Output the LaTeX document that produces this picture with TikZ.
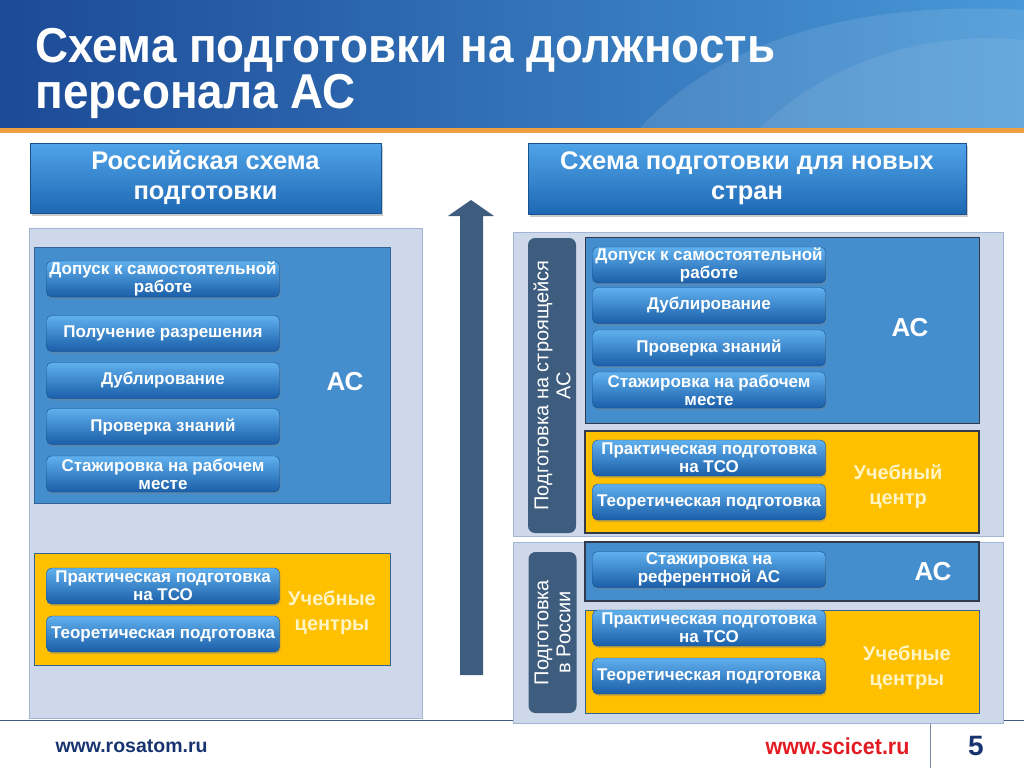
\documentclass[tikz,border=0pt]{standalone}
\usepackage{fontspec}
\setmainfont{Liberation Sans}
\newfontfamily\narrowfont[FakeStretch=0.935]{Liberation Sans}
\usetikzlibrary{shadows}

\definecolor{headdark}{RGB}{28,74,150}
\definecolor{headlight}{RGB}{72,152,215}
\definecolor{rosorange}{RGB}{238,158,62}
\definecolor{panelfill}{RGB}{205,217,234}
\definecolor{paneldraw}{RGB}{160,182,212}
\definecolor{asblue}{RGB}{68,142,206}
\definecolor{asedge}{RGB}{52,98,150}
\definecolor{darkedge}{RGB}{48,58,74}
\definecolor{tcyellow}{RGB}{255,192,0}
\definecolor{btntop}{RGB}{96,176,238}
\definecolor{btnbot}{RGB}{26,94,168}
\definecolor{headtop}{RGB}{80,164,232}
\definecolor{headbot}{RGB}{30,104,180}
\definecolor{slate}{RGB}{62,92,126}
\definecolor{paleyellow}{RGB}{255,244,196}
\definecolor{footblue}{RGB}{24,52,112}
\definecolor{scired}{RGB}{226,28,34}

\tikzstyle{btn} = [rounded corners=5pt,top color=btntop,bottom color=btnbot,draw=btnbot!85!black,
  drop shadow={shadow xshift=1pt,shadow yshift=-2pt,opacity=0.35},text=white,align=center,
  minimum width=233,minimum height=36,inner sep=0pt,
  font=\bfseries\fontsize{17}{18}\selectfont]
\tikzstyle{headbox} = [top color=headtop,bottom color=headbot,draw=headbot!80!black,
  drop shadow={shadow xshift=2pt,shadow yshift=-3pt,opacity=0.4},text=white,align=center,inner sep=0pt,
  font=\bfseries\fontsize{25.5}{30}\selectfont]
\tikzstyle{pill} = [rounded corners=7pt,fill=slate,text=white,align=center,rotate=90,inner sep=0pt,
  minimum height=48,font=\fontsize{20}{22}\selectfont]
\tikzstyle{panel} = [fill=panelfill,draw=paneldraw]
\tikzstyle{asbox} = [fill=asblue,draw=asedge,thick]
\tikzstyle{tcbox} = [fill=tcyellow,draw=asedge,thick]
\tikzstyle{aslabel} = [text=white,font=\bfseries\fontsize{26}{30}\selectfont]
\tikzstyle{tclabel} = [text=paleyellow,align=center,font=\bfseries\fontsize{20}{25}\selectfont]

\begin{document}
\begin{tikzpicture}[x=1pt,y=-1pt]
      \useasboundingbox (0,0) rectangle (1024,768);
      % title band
      \shade[left color=headdark,right color=headlight] (0,0) rectangle (1024,128);
      \fill[white,opacity=0.10] (640,128) .. controls (720,40) and (860,0) .. (1024,10) -- (1024,128) -- cycle;
      \fill[white,opacity=0.08] (760,128) .. controls (830,60) and (930,30) .. (1024,40) -- (1024,128) -- cycle;
      \fill[rosorange] (0,128) rectangle (1024,133);
      \node[anchor=base west,text=white,font=\narrowfont\bfseries\fontsize{49}{52}\selectfont] (title1) at (32,63) {Схема подготовки на должность};
      \node[anchor=base west,text=white,font=\narrowfont\bfseries\fontsize{49}{52}\selectfont] (title2) at (32,108) {персонала АС};

      % footer
      \draw[slate,thick] (0,720) -- (1024,720);
      \draw[slate!70] (930,722) -- (930,768);
      \node[anchor=base west,text=footblue,font=\bfseries\fontsize{19.5}{22}\selectfont] (rosatom) at (52,752) {www.rosatom.ru};
      \node[anchor=base east,text=scired,font=\narrowfont\bfseries\fontsize{23}{28}\selectfont] (scicet) at (913,754) {www.scicet.ru};
      \node[anchor=base,text=footblue,font=\bfseries\fontsize{28}{30}\selectfont] (pagenum) at (976,755) {5};

      % column headers
      \node[headbox,minimum width=351,minimum height=70] (hleft) at (205.5,178) {Российская схема\\подготовки};
      \node[headbox,minimum width=438,minimum height=71] (hright) at (747,178.5) {Схема подготовки для новых\\стран};

      % arrow
      \fill[slate] (460,675) -- (460,216) -- (448,216) -- (471,200) -- (494,216) -- (483,216) -- (483,675) -- cycle;

      % left column
      \draw[panel] (29,228) rectangle (422,718);
      \draw[asbox] (34,247) rectangle (390,503);
      \draw[tcbox] (34,553) rectangle (390,665);
      \foreach \name/\y/\txt in {
        ldop/279/{Допуск к самостоятельной\\работе},
        lrazr/333.5/{Получение разрешения},
        ldubl/380.5/{Дублирование},
        lprov/426.5/{Проверка знаний},
        lstaj/474/{Стажировка на рабочем\\месте},
        lprakt/586/{Практическая подготовка\\на ТСО},
        lteor/634/{Теоретическая подготовка}}
      {
        \node[btn] (\name) at (163,\y) {\txt};
      }
      \node[aslabel] (lAS) at (345,382) {АС};
      \node[tclabel] (lTC) at (332,613) {Учебные\\центры};

      % right column, upper part
      \draw[panel] (513,232) rectangle (1003,536);
      \draw[asbox,draw=darkedge] (585,237) rectangle (979,423);
      \draw[tcbox,draw=darkedge,line width=2.5pt] (585,431) rectangle (979,533);
      \node[pill,minimum width=295] (pillAS) at (552,385.5) {Подготовка на строящейся\\АС};

      % right column, lower part
      \draw[panel] (513,542) rectangle (1003,723);
      \draw[asbox,draw=darkedge,line width=2pt] (585,542) rectangle (979,601);
      \draw[tcbox] (585,610) rectangle (979,713);
      \node[pill,minimum width=161] (pillRU) at (552.5,632.5) {Подготовка\\в России};

      \foreach \name/\y/\txt in {
        rdop/265/{Допуск к самостоятельной\\работе},
        rdubl/305.5/{Дублирование},
        rprov/348/{Проверка знаний},
        rstaj/390/{Стажировка на рабочем\\месте},
        rprakt/458/{Практическая подготовка\\на ТСО},
        rteor/502/{Теоретическая подготовка},
        rref/569.5/{Стажировка на\\референтной АС},
        rprakt2/628/{Практическая подготовка\\на ТСО},
        rteor2/676/{Теоретическая подготовка}}
      {
        \node[btn] (\name) at (709,\y) {\txt};
      }
      \node[aslabel] (rAS) at (910,328) {АС};
      \node[tclabel] (rTC) at (898,487) {Учебный\\центр};
      \node[aslabel] (rAS2) at (933,572) {АС};
      \node[tclabel] (rTC2) at (907,668) {Учебные\\центры};
    \end{tikzpicture}
\end{document}
